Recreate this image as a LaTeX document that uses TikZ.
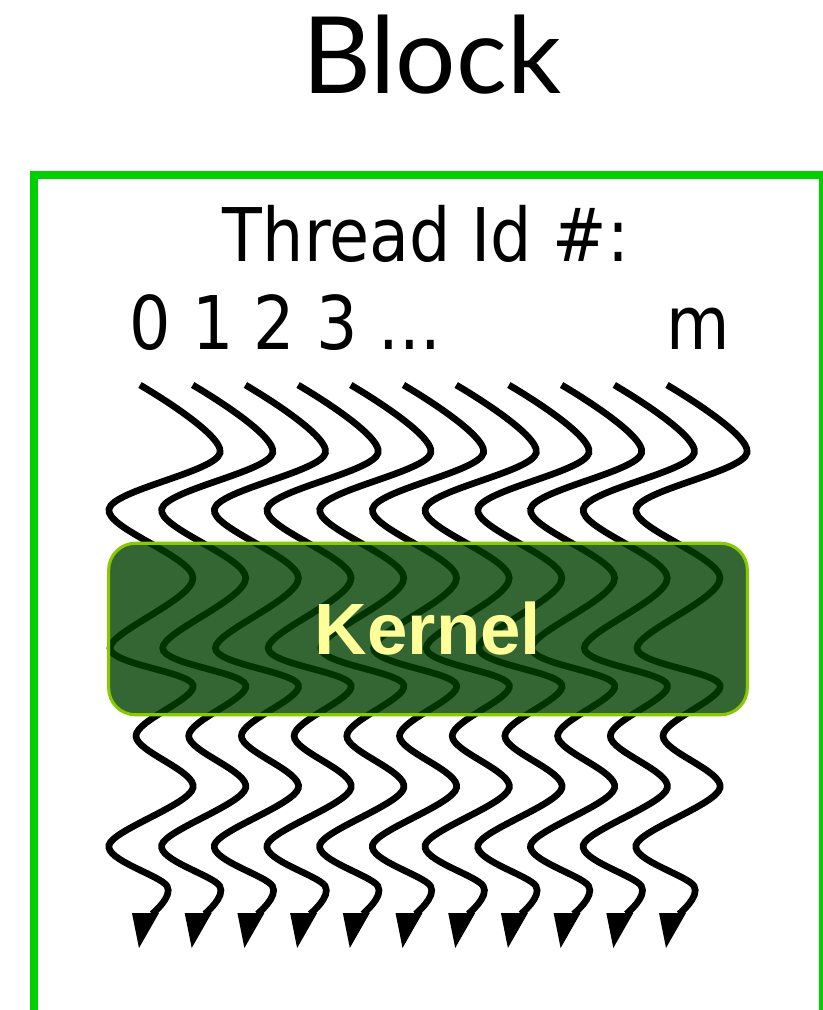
\documentclass[tikz,border=0pt]{standalone}
\usepackage{fontspec}
\setmainfont{DejaVu Sans}
\newfontfamily\titlefont{Lato}
\newfontfamily\labelfont[FakeStretch=0.88]{DejaVu Sans}
\newfontfamily\kernelfont{Liberation Sans}
\definecolor{framegreen}{RGB}{0,208,0}
\definecolor{kernelfill}{RGB}{0,64,0}
\definecolor{kernelrim}{RGB}{138,200,0}
\definecolor{kerneltext}{RGB}{255,255,153}
\begin{document}
\begin{tikzpicture}[x=0.75pt,y=-0.75pt,
  thread/.style={line width=5pt,black},
  tiphead/.style={fill=black,draw=none},
  frame/.style={draw=framegreen,line width=6pt},
  kernelbox/.style={draw=kernelrim,line width=2.3pt,fill=kernelfill,fill opacity=0.8,text opacity=1,
    rounded corners=20pt,minimum width=479pt,minimum height=128.6pt,inner sep=0pt,
    font=\kernelfont\bfseries\fontsize{54.5}{60}\selectfont,text=kerneltext},
  idlabel/.style={anchor=base,inner sep=0pt,font=\labelfont\fontsize{55.5}{60}\selectfont}]
\useasboundingbox (0,0) rectangle (822,1010);
% frame
\draw[frame] (34,175) rectangle (823,1014);
% title
\node[anchor=base,inner sep=0pt,font=\titlefont\fontsize{80}{90}\selectfont] (title) at (432,93) {Block};
% labels
\node[idlabel] (tid) at (426,261) {Thread Id \#:};
\node[idlabel] (n0) at (150.5,349) {0};
\node[idlabel] (n1) at (213,349) {1};
\node[idlabel] (n2) at (274,349) {2};
\node[idlabel] (n3) at (337,349) {3};
\node[idlabel] (ndots) at (410,349) {...};
\node[idlabel] (nm) at (698,349) {m};
% threads
\foreach \i in {0,...,10}{
  \pgfmathsetmacro\xo{140+52.7*\i}
  \draw[thread] plot[smooth,tension=0.55] coordinates {
    (\xo,385) ({\xo+80},453) ({\xo-31},509) ({\xo+53},578) ({\xo-30},648)
    ({\xo+53},685) ({\xo-4},736) ({\xo+53},788) ({\xo-31},845) ({\xo+27},886) ({\xo+12},914)};
  \fill[tiphead] ({\xo-8},913) -- ({\xo+19},913) -- ({\xo-1},948) -- cycle;
}
% kernel
\node[kernelbox] (kernel) at (428,629) {Kernel};
\end{tikzpicture}
\end{document}
